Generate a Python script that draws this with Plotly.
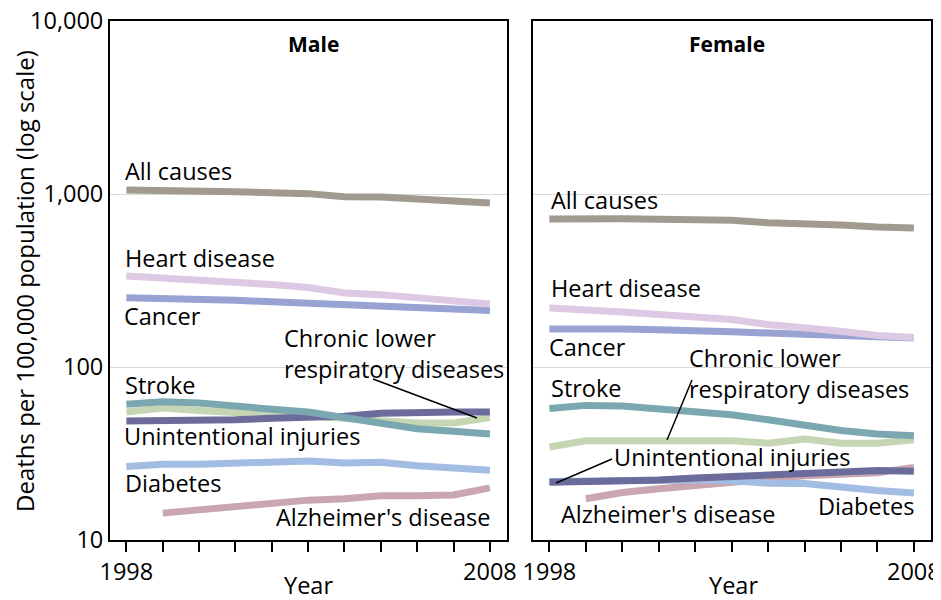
import plotly.graph_objects as go

# the page adds an 8px body margin; figure spans page pixels 8..941 / 8..600
OFF = 8
W, H = 941 - OFF, 600 - OFF

years = list(range(1998, 2009))
alz_years = list(range(1999, 2009))

# Male series (deaths per 100,000)
male_all = [1054, 1052, 1045, 1030, 1018, 1005, 965, 962, 935, 915, 887]
male_heart = [336, 328, 320, 308, 300, 288, 268, 262, 250, 238, 231]
male_cancer = [251, 250, 248, 243, 238, 233, 228, 225, 221, 216, 212]
male_stroke = [61, 63, 62, 59, 57, 55, 51, 47.5, 44, 42.5, 41]
male_clrd = [55, 58, 56, 54, 53, 52, 50.5, 49.5, 47.5, 47.5, 51]
male_injury = [48.7, 49, 48.5, 49.5, 50.5, 51, 52, 54, 55, 55, 55]
male_diabetes = [26.6, 27.4, 27.4, 27.8, 28.3, 28.6, 27.9, 28.1, 26.9, 26.0, 25.3]
male_alz = [14.3, 15.0, 15.8, 16.3, 17.0, 17.3, 18.0, 18.0, 18.2, 20.0]

# Female series
female_all = [716, 722, 720, 715, 712, 705, 682, 678, 662, 645, 636]
female_heart = [219, 215, 208, 201, 195, 188, 176, 170, 161, 152, 148]
female_cancer = [166, 167, 166, 164, 163, 160, 157, 155, 153, 150, 147]
female_stroke = [57.5, 60, 59.5, 57, 55.5, 53, 49.5, 46, 43, 41, 40]
female_clrd = [34.5, 37.5, 37.5, 37.5, 37.5, 37.5, 36.3, 38.3, 36.2, 36.3, 38]
female_injury = [21.6, 21.8, 21.6, 22.2, 22.8, 23.3, 23.8, 24.3, 24.8, 25.2, 25.0]
female_diabetes = [21.8, 22.0, 22.2, 22.3, 22.2, 22.0, 21.3, 21.2, 20.0, 19.3, 18.7]
female_alz = [17.3, 18.8, 19.8, 20.8, 21.8, 22.5, 23.5, 24.0, 24.5, 26.3]

x_tick_labels = ["1998"] + [""] * 9 + ["2008"]
y_tick_vals = [10, 100, 1000, 10000]
y_tick_labels = ["10", "100", "1,000", "10,000"]

colors = {
    "Alzheimer's disease": "#c9a6b0",
    "Diabetes": "#a3bce3",
    "Chronic lower respiratory diseases": "#c6d6b4",
    "Unintentional injuries": "#6b6c9c",
    "Stroke": "#7ba7b0",
    "Cancer": "#98a3d3",
    "Heart disease": "#ddc9e3",
    "All causes": "#a09a8f",
}

male = [
    ("Alzheimer's disease", alz_years, male_alz),
    ("Diabetes", years, male_diabetes),
    ("Chronic lower respiratory diseases", years, male_clrd),
    ("Unintentional injuries", years, male_injury),
    ("Stroke", years, male_stroke),
    ("Cancer", years, male_cancer),
    ("Heart disease", years, male_heart),
    ("All causes", years, male_all),
]
female = [
    ("Alzheimer's disease", alz_years, female_alz),
    ("Diabetes", years, female_diabetes),
    ("Chronic lower respiratory diseases", years, female_clrd),
    ("Stroke", years, female_stroke),
    ("Unintentional injuries", years, female_injury),
    ("Cancer", years, female_cancer),
    ("Heart disease", years, female_heart),
    ("All causes", years, female_all),
]

fig = go.Figure()
for name, xs, ys in male:
    fig.add_trace(go.Scatter(x=xs, y=ys, mode="lines", name=name, showlegend=False,
                             line=dict(color=colors[name], width=7), xaxis="x", yaxis="y"))
for name, xs, ys in female:
    fig.add_trace(go.Scatter(x=xs, y=ys, mode="lines", name=name, showlegend=False,
                             line=dict(color=colors[name], width=7), xaxis="x2", yaxis="y2"))

def px(x):
    return (x - OFF) / W

def py(y):
    return 1 - (y - OFF) / H

FONT = "Open Sans"
FS = 23.5

xcommon = dict(range=[1997.55, 2008.47], tickvals=years, ticktext=x_tick_labels,
               ticks="outside", ticklen=10, tickwidth=2, tickcolor="black",
               showline=True, linecolor="black", linewidth=2, mirror=True,
               showgrid=False, zeroline=False, automargin=False,
               ticklabeloverflow="allow",
               tickfont=dict(family=FONT, size=FS, color="black"))
ycommon = dict(type="log", range=[1, 4], tickvals=y_tick_vals,
               ticktext=y_tick_labels, automargin=False,
               ticklabeloverflow="allow",
               showline=True, linecolor="black", linewidth=2, mirror=True,
               showgrid=True, gridcolor="#d9d9d9", gridwidth=1, zeroline=False,
               ticks="", tickfont=dict(family=FONT, size=FS, color="black"))

fig.update_layout(
    width=W, height=H,
    margin=dict(l=0, r=0, t=0, b=0),
    paper_bgcolor="white", plot_bgcolor="white",
    font=dict(family=FONT, size=FS, color="black"),
    xaxis=dict(domain=[px(110), px(507)], anchor="y", **xcommon),
    xaxis2=dict(domain=[px(533), px(931)], anchor="y2", **xcommon),
    yaxis=dict(domain=[py(540), py(21)], anchor="x", **ycommon),
    yaxis2=dict(domain=[py(540), py(21)], anchor="x2", showticklabels=False, **ycommon),
)

ann = []
def label(text, x, y, xanchor="left", bold=False, size=FS, angle=0):
    t = f"<b>{text}</b>" if bold else text
    ann.append(dict(text=t, x=px(x), y=py(y), xref="paper", yref="paper",
                    xanchor=xanchor, yanchor="middle", showarrow=False, textangle=angle,
                    align="left", borderpad=0,
                    font=dict(family=FONT, size=size, color="black")))

label("Male", 313, 44, "center", True, 21)
label("Female", 727, 44, "center", True, 21)
label("Year", 308, 585, "center")
label("Year", 733, 585, "center")
label("Deaths per 100,000 population (log scale)", 24, 281, "center", angle=-90, size=24)

# Male labels
label("All causes", 124, 171)
label("Heart disease", 124, 258)
label("Cancer", 123, 316)
label("Chronic lower<br>respiratory diseases", 283, 353)
label("Stroke", 124, 385)
label("Unintentional injuries", 123, 436)
label("Diabetes", 124, 483)
label("Alzheimer's disease", 492, 517, "right")

# Female labels
label("All causes", 550, 200)
label("Heart disease", 550, 288)
label("Cancer", 548, 347)
label("Chronic lower<br>respiratory diseases", 688, 373)
label("Stroke", 550, 388)
label("Unintentional injuries", 613, 457)
label("Alzheimer's disease", 560, 514)
label("Diabetes", 915, 506, "right")

fig.update_layout(annotations=ann)

shapes = []
def seg(x0, y0, x1, y1):
    shapes.append(dict(type="line", xref="paper", yref="paper",
                       x0=px(x0), y0=py(y0), x1=px(x1), y1=py(y1),
                       line=dict(color="black", width=1.5)))
seg(373, 379, 477, 418)
seg(692, 380, 667, 440)
seg(612, 459, 556, 483)
fig.update_layout(shapes=shapes)

fig.write_html("out.html")
